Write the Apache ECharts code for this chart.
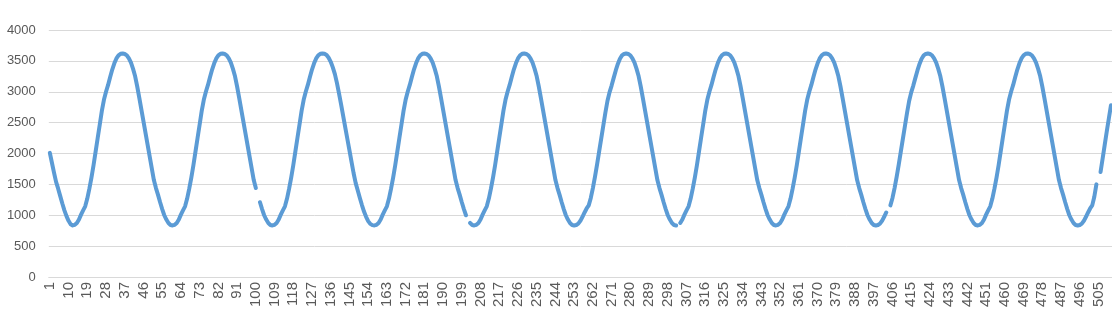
<!DOCTYPE html>
<html><head><meta charset="utf-8">
<script src="https://cdn.jsdelivr.net/npm/echarts@6/dist/echarts.min.js"></script>
<style>html,body{margin:0;padding:0;background:#fff}#c{width:1112px;height:320px}</style>
</head><body><div id="c"></div>
<script>
// values, categories 1..511 (null = gap in the line)
const values = [
2010,1850,1690,1540,1430,1310,1190,1080,985,910,855,835,
845,875,930,1010,1080,1145,1270,1430,1610,1810,2030,2250,2470,2690,2870,3000,3110,3240,3360,3460,3540,3590,3615,3620,
3612,3590,3540,3470,3370,3250,3085,2900,2710,2520,2330,2140,1950,1760,1570,1440,1330,1210,1100,1000,930,875,843,835,
845,875,930,1010,1080,1145,1270,1430,1610,1810,2030,2250,2470,2690,2870,3000,3110,3240,3360,3460,3540,3590,3615,3620,
3612,3590,3540,3470,3370,3250,3085,2900,2710,2520,2330,2140,1950,1760,1570,1440,null,1210,1100,1000,930,875,843,835,
845,875,930,1010,1080,1145,1270,1430,1610,1810,2030,2250,2470,2690,2870,3000,3110,3240,3360,3460,3540,3590,3615,3620,
3614,3595,3550,3485,3395,3285,3140,2970,2790,2605,2420,2235,2050,1865,1680,1520,1400,1280,1165,1060,975,905,860,840,835,
845,875,930,1010,1080,1145,1270,1430,1610,1810,2030,2250,2470,2690,2870,3000,3110,3240,3360,3460,3540,3590,3615,3620,
3612,3590,3540,3470,3370,3250,3085,2900,2710,2520,2330,2140,1950,1760,1570,1440,1330,1210,1100,1000,null,875,843,835,
845,875,930,1010,1080,1145,1270,1430,1610,1810,2030,2250,2470,2690,2870,3000,3110,3240,3360,3460,3540,3590,3615,3620,
3612,3590,3540,3470,3370,3250,3085,2900,2710,2520,2330,2140,1950,1760,1570,1440,1330,1210,1100,1000,930,875,843,835,
842,865,910,975,1045,1110,1160,1280,1440,1620,1820,2030,2240,2450,2660,2850,2990,3100,3225,3345,3450,3535,3588,3612,3620,
3612,3590,3540,3470,3370,3250,3085,2900,2710,2520,2330,2140,1950,1760,1570,1440,1330,1210,1100,1000,930,875,843,835,
null,875,930,1010,1080,1145,1270,1430,1610,1810,2030,2250,2470,2690,2870,3000,3110,3240,3360,3460,3540,3590,3615,3620,
3612,3590,3540,3470,3370,3250,3085,2900,2710,2520,2330,2140,1950,1760,1570,1440,1330,1210,1100,1000,930,875,843,835,
845,875,930,1010,1080,1145,1270,1430,1610,1810,2030,2250,2470,2690,2870,3000,3110,3240,3360,3460,3540,3590,3615,3620,
3612,3590,3540,3470,3370,3250,3085,2900,2710,2520,2330,2140,1950,1760,1570,1440,1330,1210,1100,1000,930,875,843,835,
842,865,910,975,1045,null,1160,1280,1440,1620,1820,2030,2240,2450,2660,2850,2990,3100,3225,3345,3450,3535,3588,3612,3620,
3612,3590,3540,3470,3370,3250,3085,2900,2710,2520,2330,2140,1950,1760,1570,1440,1330,1210,1100,1000,930,875,843,835,
845,875,930,1010,1080,1145,1270,1430,1610,1810,2030,2250,2470,2690,2870,3000,3110,3240,3360,3460,3540,3590,3615,3620,
3612,3590,3540,3470,3370,3250,3085,2900,2710,2520,2330,2140,1950,1760,1570,1440,1330,1210,1100,1000,930,875,843,835,
842,865,910,975,1045,1110,1160,1300,1500,null,1700,1920,2140,2360,2570,2780
];
const categories = values.map((_, i) => String(i + 1));
const yMin = 0, yMax = 4000, yStep = 500;

const chart = echarts.init(document.getElementById('c'), null, {renderer: 'canvas'});
chart.setOption({
  animation: false,
  backgroundColor: '#ffffff',
  grid: {left: 48.8, right: -2.2, top: 30, bottom: 43, containLabel: false},
  xAxis: {
    type: 'category',
    data: categories,
    boundaryGap: true,
    axisLine: {show: true, lineStyle: {color: '#d9d9d9', width: 1}},
    axisTick: {show: false},
    splitLine: {show: false},
    axisLabel: {interval: 8, rotate: 90, fontSize: 15, color: '#595959', margin: 5, fontFamily: 'Liberation Sans, Arial, sans-serif'}
  },
  yAxis: {
    type: 'value',
    min: yMin, max: yMax, interval: yStep,
    axisLine: {show: false},
    axisTick: {show: false},
    splitLine: {lineStyle: {color: '#d9d9d9', width: 1}},
    axisLabel: {fontSize: 13, color: '#595959', margin: 13, fontFamily: 'Liberation Sans, Arial, sans-serif',
      formatter: v => String(v)}
  },
  series: [{
    type: 'line',
    data: values,
    showSymbol: false,
    connectNulls: false,
    lineStyle: {color: '#5b9bd5', width: 4, cap: 'round', join: 'round'},
    itemStyle: {color: '#5b9bd5'}
  }]
});
</script>
</body></html>
